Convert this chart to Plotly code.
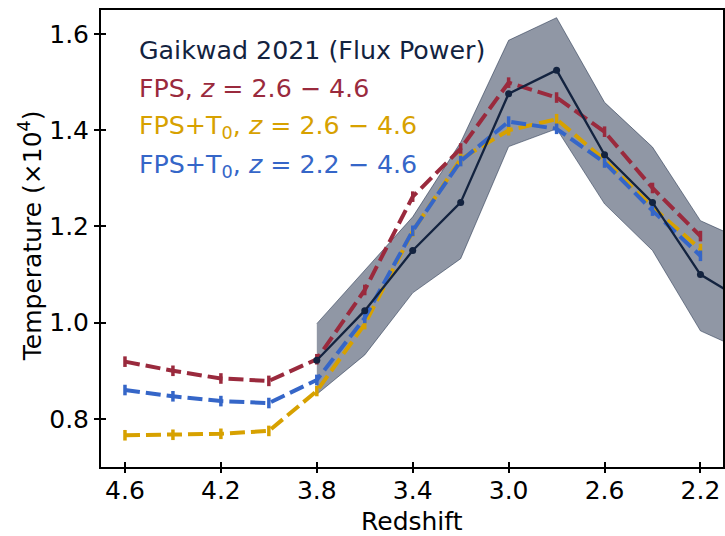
import plotly.graph_objects as go

# ---- data ----
z_models = [4.6, 4.4, 4.2, 4.0, 3.8, 3.6, 3.4, 3.2, 3.0, 2.8, 2.6, 2.4, 2.2]
fps_26_46 = [0.919, 0.900, 0.884, 0.879, 0.924, 1.068, 1.262, 1.362, 1.499, 1.468, 1.397, 1.280, 1.180]
fpsT0_26_46 = [0.766, 0.767, 0.769, 0.775, 0.858, 0.997, 1.190, 1.340, 1.400, 1.423, 1.338, 1.240, 1.153]
fpsT0_22_46 = [0.860, 0.847, 0.837, 0.833, 0.881, 1.010, 1.191, 1.336, 1.418, 1.403, 1.333, 1.233, 1.139]
model_err = [0.011] * len(z_models)

z_gaikwad = [3.8, 3.6, 3.4, 3.2, 3.0, 2.8, 2.6, 2.4, 2.2, 2.0]
gaikwad = [0.922, 1.025, 1.150, 1.250, 1.476, 1.525, 1.349, 1.250, 1.100, 1.040]
gaikwad_hi = [0.998, 1.110, 1.220, 1.375, 1.587, 1.634, 1.458, 1.365, 1.212, 1.167]
gaikwad_lo = [0.851, 0.933, 1.062, 1.133, 1.366, 1.403, 1.247, 1.150, 0.983, 0.938]

x_ticks = [4.6, 4.2, 3.8, 3.4, 3.0, 2.6, 2.2]
y_ticks = [0.8, 1.0, 1.2, 1.4, 1.6]
x_range = [4.7, 2.106]
y_range = [0.7, 1.65]

legend_labels = [
    "Gaikwad 2021 (Flux Power)",
    "FPS, <i>z</i> = 2.6 − 4.6",
    "FPS+T<sub>0</sub>, <i>z</i> = 2.6 − 4.6",
    "FPS+T<sub>0</sub>, <i>z</i> = 2.2 − 4.6",
]

NAVY = "#13233f"
RED = "#9a2a3d"
YELLOW = "#d7a100"
BLUE = "#3566c8"
FONT = "DejaVu Sans"

fig = go.Figure()

# shaded band
fig.add_trace(go.Scatter(x=z_gaikwad, y=gaikwad_hi, mode="lines",
                         line=dict(color="rgba(19,35,63,0.5)", width=1),
                         showlegend=False, hoverinfo="skip"))
fig.add_trace(go.Scatter(x=z_gaikwad, y=gaikwad_lo, mode="lines",
                         line=dict(color="rgba(19,35,63,0.5)", width=1),
                         fill="tonexty", fillcolor="rgba(19,35,63,0.47)",
                         showlegend=False, hoverinfo="skip"))

def model_trace(y, color):
    return go.Scatter(
        x=z_models, y=y, mode="lines",
        line=dict(color=color, width=4, dash="15px,6px"),
        error_y=dict(type="data", array=model_err, color=color,
                     thickness=3.5, width=0),
        showlegend=False)

fig.add_trace(model_trace(fps_26_46, RED))
fig.add_trace(model_trace(fpsT0_26_46, YELLOW))
fig.add_trace(model_trace(fpsT0_22_46, BLUE))

fig.add_trace(go.Scatter(x=z_gaikwad, y=gaikwad, mode="lines+markers",
                         line=dict(color=NAVY, width=2.3),
                         marker=dict(color=NAVY, size=7),
                         showlegend=False))

# helper trace for the second set of tick marks (invisible)
fig.add_trace(go.Scatter(x=x_ticks, y=y_ticks[:1] * len(x_ticks), xaxis="x2", yaxis="y2",
                         mode="markers", marker=dict(opacity=0), showlegend=False,
                         hoverinfo="skip"))

L, T, B = 101, 10, 69
W, H = 725, 536
plot_w = W - L
plot_h = H - T - B

def px_to_paper_x(px):
    return (px - L) / plot_w

def px_to_paper_y(py):
    return (H - B - py) / plot_h

colors = [NAVY, RED, YELLOW, BLUE]
ys = [50, 88.5, 127, 165.5]
annotations = []
for lab, col, yy in zip(legend_labels, colors, ys):
    annotations.append(dict(text=lab, xref="paper", yref="paper",
                            x=px_to_paper_x(137), y=px_to_paper_y(yy),
                            xanchor="left", yanchor="middle", showarrow=False,
                            font=dict(family=FONT, size=25.3, color=col)))

annotations.append(dict(text="Redshift", xref="paper", yref="paper",
                        x=px_to_paper_x(413), y=px_to_paper_y(521),
                        xanchor="center", yanchor="middle", showarrow=False,
                        font=dict(family=FONT, size=25, color="black")))
annotations.append(dict(text="Temperature (×10<sup>4</sup>)", xref="paper", yref="paper",
                        x=px_to_paper_x(30), y=px_to_paper_y(236),
                        xanchor="center", yanchor="middle", showarrow=False,
                        textangle=-90,
                        font=dict(family=FONT, size=25, color="black")))

fig.update_layout(
    width=W, height=H,
    margin=dict(l=L, r=0, t=T, b=B, pad=0),
    paper_bgcolor="white", plot_bgcolor="white",
    font=dict(family=FONT, size=25, color="black"),
    annotations=annotations,
    showlegend=False,
)
common = dict(showgrid=False, zeroline=False, tickwidth=2, tickcolor="black")
fig.update_layout(
    xaxis=dict(range=x_range, tickvals=x_ticks, tickformat=".1f",
               ticks="inside", ticklen=5,
               showline=True, linecolor="black", linewidth=2, mirror=True,
               tickfont=dict(family=FONT, size=25, color="black"), **common),
    yaxis=dict(range=y_range, tickvals=y_ticks, tickformat=".1f",
               ticks="outside", ticklen=5,
               showline=True, linecolor="black", linewidth=2, mirror=True,
               tickfont=dict(family=FONT, size=25, color="black"), **common),
    xaxis2=dict(range=x_range, tickvals=x_ticks, overlaying="x", anchor="y2",
                ticks="outside", ticklen=5, showticklabels=False, showline=False, **common),
    yaxis2=dict(range=y_range, tickvals=y_ticks, overlaying="y", anchor="x2",
                ticks="inside", ticklen=5, showticklabels=False, showline=False, **common),
)

fig.write_html("out.html")
